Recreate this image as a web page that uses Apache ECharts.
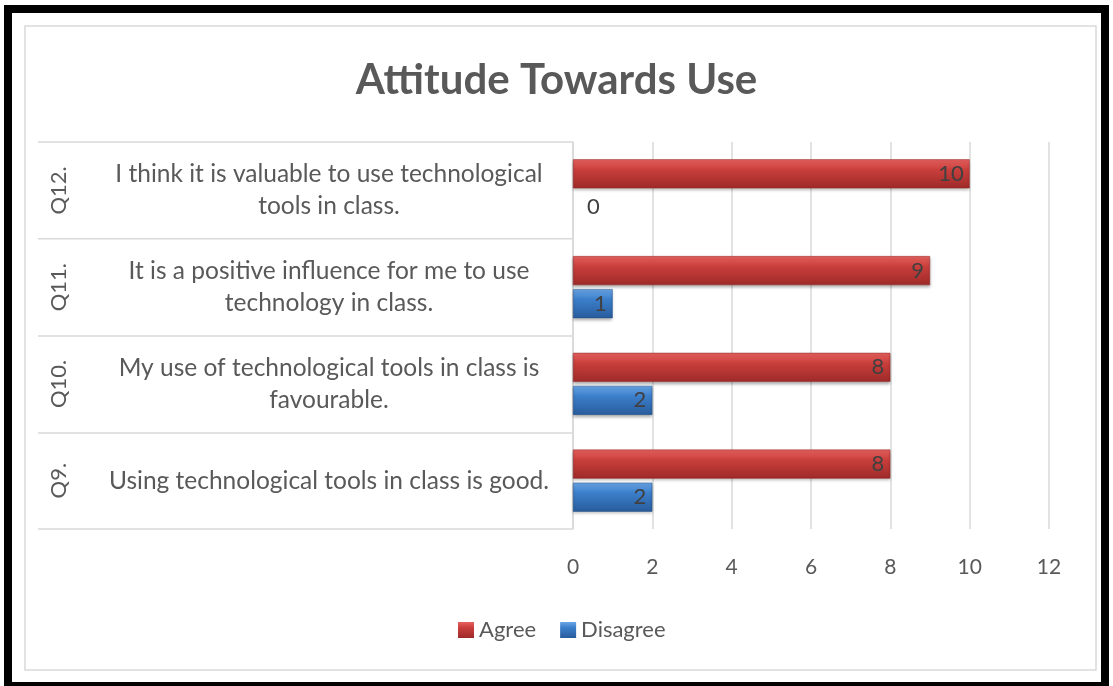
<!DOCTYPE html>
<html>
<head>
<meta charset="utf-8">
<style>
  html, body { margin: 0; padding: 0; background: #ffffff; }
  #chart { width: 1113px; height: 686px; }
</style>
<script src="https://cdn.jsdelivr.net/npm/echarts@6/dist/echarts.min.js"></script>
</head>
<body>
<div id="chart"></div>
<script>
// Data (bottom-to-top order, as in the source sheet)
const questionIds = ['Q9.', 'Q10.', 'Q11.', 'Q12.'];
const questionTexts = [
  'Using technological tools in class is good.',
  'My use of technological tools in class is\nfavourable.',
  'It is a positive influence for me to use\ntechnology in class.',
  'I think it is valuable to use technological\ntools in class.'
];
const agreeValues = [8, 8, 9, 10];
const disagreeValues = [2, 2, 1, 0];
const seriesNames = ['Agree', 'Disagree'];
const xTicks = { min: 0, max: 12, interval: 2 };

const FONT = 'Lato, "Open Sans", sans-serif';
const TXT = '#595959';

function grad(top, mid, bot) {
  return new echarts.graphic.LinearGradient(0, 0, 0, 1, [
    { offset: 0, color: top }, { offset: 0.35, color: mid }, { offset: 1, color: bot }
  ]);
}
const redFill = grad('#e8625f', '#c93f3c', '#9e2a28');
const blueFill = grad('#6aa6e6', '#3b7fcb', '#285c9c');

function toItems(vals) {
  return vals.map(v => v === 0
    ? { value: v, label: { position: 'right', distance: 14 }, itemStyle: { borderWidth: 0, shadowBlur: 0 } }
    : v);
}

const chart = echarts.init(document.getElementById('chart'), null, { renderer: 'canvas' });
chart.setOption({
  animation: false,
  textStyle: { fontFamily: FONT },
  title: {
    text: 'Attitude Towards Use',
    left: 'center',
    top: 54,
    textStyle: { fontFamily: FONT, fontSize: 42, fontWeight: 'bold', color: TXT }
  },
  legend: {
    data: seriesNames,
    left: 453,
    top: 614,
    icon: 'rect',
    itemWidth: 16,
    itemHeight: 16,
    itemGap: 24,
    itemStyle: { borderWidth: 0 },
    textStyle: { fontFamily: FONT, fontSize: 22, color: TXT }
  },
  grid: { left: 573, right: 64, top: 142, bottom: 157, containLabel: false },
  xAxis: {
    type: 'value',
    min: xTicks.min, max: xTicks.max, interval: xTicks.interval,
    axisLine: { show: false },
    axisTick: { show: false },
    splitLine: { lineStyle: { color: '#d9d9d9', width: 1.5 } },
    axisLabel: { fontFamily: FONT, fontSize: 21, color: TXT, margin: 28 }
  },
  yAxis: [
    {
      type: 'category',
      data: questionTexts,
      position: 'left',
      axisLine: { show: true, lineStyle: { color: '#d9d9d9', width: 1.5 } },
      axisTick: { show: true, length: 535, lineStyle: { color: '#d9d9d9', width: 1.5 } },
      axisLabel: {
        fontFamily: FONT, fontSize: 24.5, color: TXT, lineHeight: 32,
        align: 'center', margin: 244
      }
    },
    {
      type: 'category',
      data: questionIds,
      position: 'left',
      axisLine: { show: false },
      axisTick: { show: false },
      axisLabel: {
        fontFamily: FONT, fontSize: 22, color: TXT,
        rotate: 90, align: 'center', verticalAlign: 'middle', margin: 514
      }
    }
  ],
  series: [
    {
      name: seriesNames[0],
      type: 'bar',
      yAxisIndex: 0,
      data: toItems(agreeValues),
      barWidth: 29,
      barGap: '14%',
      itemStyle: { color: redFill, borderColor: '#8e2523', borderWidth: 0.5,
        shadowColor: 'rgba(0,0,0,0.3)', shadowBlur: 3, shadowOffsetY: 2 },
      label: { show: true, position: 'insideRight', distance: 6,
        fontFamily: FONT, fontSize: 22, color: '#404040' }
    },
    {
      name: seriesNames[1],
      type: 'bar',
      yAxisIndex: 0,
      data: toItems(disagreeValues),
      barWidth: 29,
      barGap: '14%',
      itemStyle: { color: blueFill, borderColor: '#234f86', borderWidth: 0.5,
        shadowColor: 'rgba(0,0,0,0.3)', shadowBlur: 3, shadowOffsetY: 2 },
      label: { show: true, position: 'insideRight', distance: 6,
        fontFamily: FONT, fontSize: 22, color: '#404040' }
    }
  ],
  graphic: [
    { type: 'rect', silent: true, z: -10,
      shape: { x: 25, y: 26, width: 1071, height: 644 },
      style: { fill: 'none', stroke: '#d9d9d9', lineWidth: 1.5 } },
    { type: 'rect', silent: true, z: 100,
      shape: { x: 8, y: 9, width: 1097, height: 677 },
      style: { fill: 'none', stroke: '#000000', lineWidth: 8 } }
  ]
});
</script>
</body>
</html>
